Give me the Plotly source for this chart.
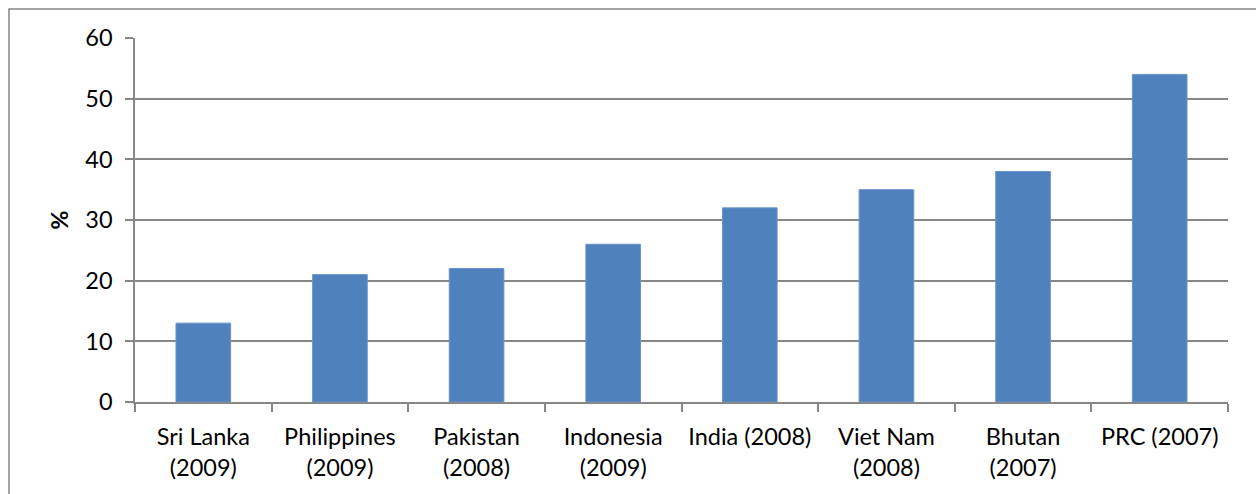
import plotly.graph_objects as go

categories = ["Sri Lanka<br>(2009)", "Philippines<br>(2009)", "Pakistan<br>(2008)", "Indonesia<br>(2009)",
              "India (2008)", "Viet Nam<br>(2008)", "Bhutan<br>(2007)", "PRC (2007)"]
values = [13, 21, 22, 26, 32, 35, 38, 54]
y_ticks = [0, 10, 20, 30, 40, 50, 60]

GRID = "#878787"
FONT = "Lato, Carlito, Calibri, sans-serif"
FS = 23.5

fig = go.Figure(go.Bar(
    x=categories, y=values,
    marker=dict(color="#4F81BD", line=dict(color="#6A95CA", width=1)),
))

fig.update_layout(
    width=1256, height=494,
    margin=dict(l=135, r=28, t=38, b=92),
    paper_bgcolor="white", plot_bgcolor="white",
    bargap=0.6,
    showlegend=False,
    font=dict(family=FONT, size=FS, color="#000000"),
    xaxis=dict(
        type="category",
        showgrid=False, showline=True, linecolor=GRID, linewidth=1.5,
        ticks="outside", tickson="boundaries", ticklen=8, tickcolor=GRID, tickwidth=1.5,
        tickfont=dict(family=FONT, size=FS),
        tickangle=0, ticklabelstandoff=13,
    ),
    yaxis=dict(
        range=[0, 60], tickvals=y_ticks,
        showgrid=True, gridcolor=GRID, gridwidth=1.5,
        showline=True, linecolor=GRID, linewidth=1.5,
        ticks="outside", ticklen=8, tickcolor=GRID, tickwidth=1.5,
        zeroline=False, ticklabelstandoff=8,
        tickfont=dict(family=FONT, size=FS),
        title=dict(text="<b>%</b>", font=dict(family=FONT, size=FS), standoff=10),
    ),
    shapes=[dict(type="rect", xref="paper", yref="paper",
                 x0=-0.1153, x1=1.05, y0=-0.3, y1=1.0797,
                 line=dict(color="#868686", width=1.5), layer="below")],
)

fig.write_html("out.html")
